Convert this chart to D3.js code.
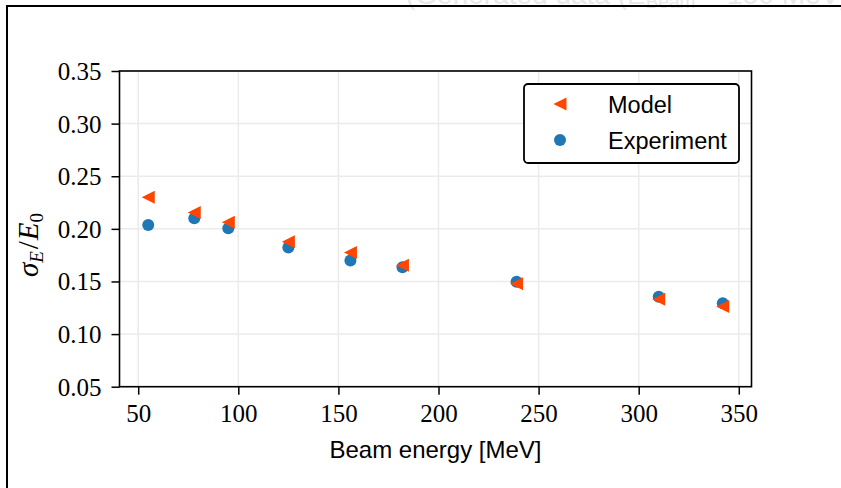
<!DOCTYPE html>
<html>
<head>
<meta charset="utf-8">
<script src="https://cdn.jsdelivr.net/npm/d3@7"></script>
<style>
  html, body { margin: 0; padding: 0; background: #fff; }
  svg { display: block; }
</style>
</head>
<body>
<svg id="chart" width="841" height="488"></svg>
<script>
// Beam energies [MeV] and relative energy resolution values
const energies = [55, 78, 95, 125, 156, 182, 239, 310, 342];
const modelValues = [0.230, 0.2155, 0.2063, 0.1877, 0.1776, 0.1654, 0.1478, 0.1331, 0.1262];
const experimentValues = [0.2037, 0.2100, 0.2006, 0.1822, 0.1700, 0.1635, 0.1498, 0.1355, 0.1294];
const xTicks = [50, 100, 150, 200, 250, 300, 350];
const yTicks = [0.05, 0.10, 0.15, 0.20, 0.25, 0.30, 0.35];
const seriesNames = ["Model", "Experiment"];

const modelColor = "#ff4500";
const expColor = "#1f77b4";
const serif = "'Liberation Serif', 'DejaVu Serif', serif";
const sans = "'Liberation Sans', 'DejaVu Sans', sans-serif";

const svg = d3.select("#chart");

// Faded caption running off the top edge, and the outer frame
const title = svg.append("text")
  .attr("x", 406).attr("y", 3.5)
  .attr("font-family", sans).attr("font-size", 28)
  .attr("fill", "#e8e8e8");
title.append("tspan").text("(Generated data (E");
title.append("tspan").attr("font-size", 19).attr("dy", 4).text("Beam");
title.append("tspan").attr("dy", -4).text(" = 150 MeV)");

svg.append("path")
  .attr("d", "M7,500 V6 H850")
  .attr("fill", "none").attr("stroke", "#000").attr("stroke-width", 2);

// Plot area
const pL = 119.5, pR = 751.5, pT = 71, pB = 386.7;
const xMin = 40.65, xMax = 356.35;
const x = d3.scaleLinear().domain([xMin, xMax]).range([pL, pR]);
const y = d3.scaleLinear().domain([0.05, 0.35]).range([pB, pT]);

// Grid
const grid = svg.append("g").attr("stroke", "#ebebeb").attr("stroke-width", 1.5);
grid.selectAll("line.gx").data(xTicks).join("line").attr("class", "gx")
  .attr("x1", d => x(d)).attr("x2", d => x(d))
  .attr("y1", pT).attr("y2", pB);
grid.selectAll("line.gy").data(yTicks).join("line").attr("class", "gy")
  .attr("x1", pL).attr("x2", pR)
  .attr("y1", d => y(d)).attr("y2", d => y(d));

// Axes
const xAxis = d3.axisBottom(x).tickValues(xTicks).tickSize(8).tickPadding(10)
  .tickFormat(d3.format("d"));
const yAxis = d3.axisLeft(y).tickValues(yTicks).tickSize(8).tickPadding(10)
  .tickFormat(d3.format(".2f"));

const gx = svg.append("g").attr("transform", `translate(0,${pB})`).call(xAxis);
const gy = svg.append("g").attr("transform", `translate(${pL},0)`).call(yAxis);
[gx, gy].forEach(g => {
  g.select(".domain").remove();
  g.selectAll(".tick line").attr("stroke", "#000").attr("stroke-width", 1.5);
  g.selectAll(".tick text").attr("font-family", serif).attr("font-size", 25).attr("fill", "#000");
});
gy.selectAll(".tick text").attr("dy", "0.34em");

// Frame of the axes
svg.append("rect")
  .attr("x", pL).attr("y", pT)
  .attr("width", pR - pL).attr("height", pB - pT)
  .attr("fill", "none").attr("stroke", "#000").attr("stroke-width", 1.6);

// Axis labels
svg.append("text")
  .attr("x", (pL + pR) / 2).attr("y", 458)
  .attr("text-anchor", "middle")
  .attr("font-family", sans).attr("font-size", 24)
  .text("Beam energy [MeV]");

const yl = svg.append("text")
  .attr("transform", "translate(38,245) rotate(-90)")
  .attr("text-anchor", "middle")
  .attr("font-family", serif).attr("font-size", 29).attr("font-style", "italic");
yl.append("tspan").text("σ");
yl.append("tspan").attr("font-size", 19).attr("dy", 5).text("E");
yl.append("tspan").attr("dy", -5).attr("dx", 2).attr("font-style", "normal").text("/");
yl.append("tspan").attr("dx", 1).text("E");
yl.append("tspan").attr("font-size", 19).attr("dy", 5).attr("font-style", "normal").text("0");

// Markers
const tri = s => `M${-s},0 L${s},${-s} L${s},${s} Z`;
const pts = energies.map((e, i) => ({ e, m: modelValues[i], x: experimentValues[i] }));

svg.append("g").selectAll("circle").data(pts).join("circle")
  .attr("cx", d => x(d.e)).attr("cy", d => y(d.x)).attr("r", 6)
  .attr("fill", expColor);

svg.append("g").selectAll("path").data(pts).join("path")
  .attr("transform", d => `translate(${x(d.e)},${y(d.m)})`)
  .attr("d", tri(6.5))
  .attr("fill", modelColor);

// Legend
const lg = svg.append("g");
lg.append("rect")
  .attr("x", 524).attr("y", 84).attr("width", 215).attr("height", 79)
  .attr("rx", 4).attr("ry", 4)
  .attr("fill", "#fff").attr("stroke", "#000").attr("stroke-width", 1.8);
lg.append("path").attr("transform", "translate(560,104)").attr("d", tri(6.5)).attr("fill", modelColor);
lg.append("circle").attr("cx", 560).attr("cy", 140).attr("r", 6).attr("fill", expColor);
lg.selectAll("text").data(seriesNames).join("text")
  .attr("x", 608).attr("y", (d, i) => 112.5 + i * 36)
  .attr("font-family", sans).attr("font-size", 23.5)
  .text(d => d);
</script>
</body>
</html>
